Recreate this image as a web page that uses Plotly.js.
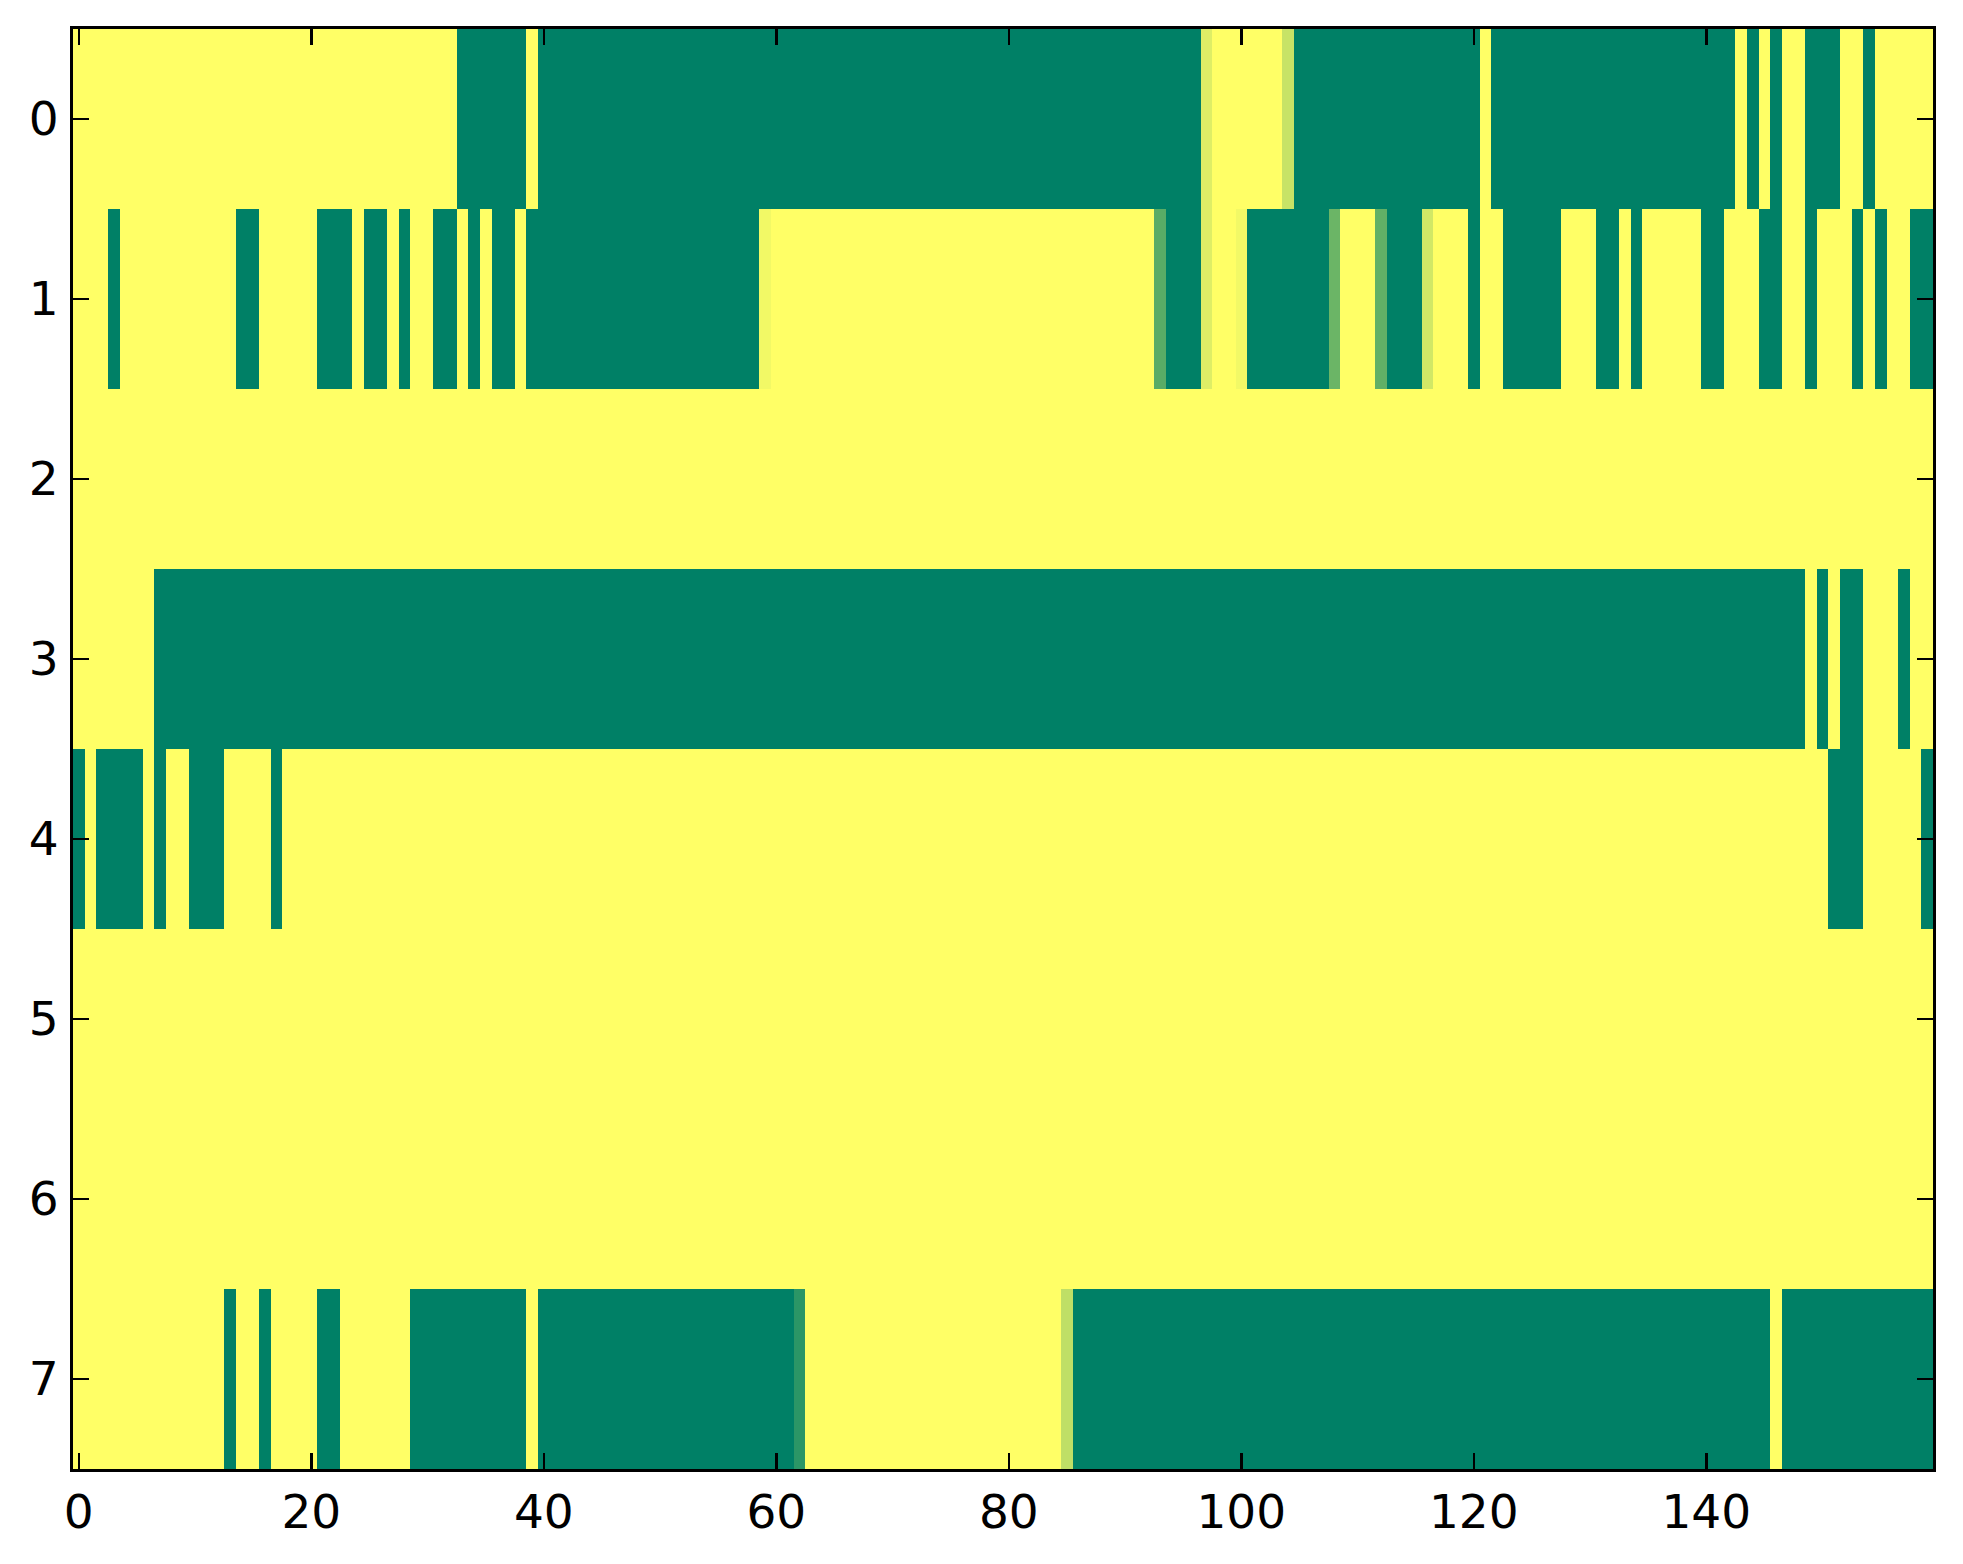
<!DOCTYPE html>
<html>
<head>
<meta charset="utf-8">
<script src="https://cdn.plot.ly/plotly-3.0.1.min.js"></script>
<style>html,body{margin:0;padding:0;background:#fff;}</style>
</head>
<body>
<div id="chart" style="width:1963px;height:1564px;"></div>
<script>
// Row values (0 = green end, 1 = yellow end of the "summer" colormap), 160 columns each
const row0 = [
  1,1,1,1,1,1,1,1,1,1,  1,1,1,1,1,1,1,1,1,1,  1,1,1,1,1,1,1,1,1,1,  1,1,1,0,0,0,0,0,0,1,
  0,0,0,0,0,0,0,0,0,0,  0,0,0,0,0,0,0,0,0,0,  0,0,0,0,0,0,0,0,0,0,  0,0,0,0,0,0,0,0,0,0,
  0,0,0,0,0,0,0,0,0,0,  0,0,0,0,0,0,0,0.87,1,1,  1,1,1,1,0.78,0,0,0,0,0,  0,0,0,0,0,0,0,0,0,0,
  0,1,0,0,0,0,0,0,0,0,  0,0,0,0,0,0,0,0,0,0,  0,0,0,1,0,1,0,1,1,0,  0,0,1,1,0,1,1,1,1,1
];
const row1 = [
  1,1,1,0,1,1,1,1,1,1,  1,1,1,1,0,0,1,1,1,1,  1,0,0,0,1,0,0,1,0,1,  1,0,0,1,0,1,0,0,1,0,
  0,0,0,0,0,0,0,0,0,0,  0,0,0,0,0,0,0,0,0,0.95,  1,1,1,1,1,1,1,1,1,1,  1,1,1,1,1,1,1,1,1,1,
  1,1,1,1,1,1,1,1,1,1,  1,1,1,0.35,0,0,0,0.87,1,1,  0.95,0,0,0,0,0,0,0,0.42,1,  1,1,0.38,0,0,0,0.82,1,1,1,
  0,1,1,0,0,0,0,0,1,1,  1,0,0,1,0,1,1,1,1,1,  0,0,1,1,1,0,0,1,1,0,  1,1,1,0,1,0,1,1,0,0
];
const row2 = [
  1,1,1,1,1,1,1,1,1,1,  1,1,1,1,1,1,1,1,1,1,  1,1,1,1,1,1,1,1,1,1,  1,1,1,1,1,1,1,1,1,1,
  1,1,1,1,1,1,1,1,1,1,  1,1,1,1,1,1,1,1,1,1,  1,1,1,1,1,1,1,1,1,1,  1,1,1,1,1,1,1,1,1,1,
  1,1,1,1,1,1,1,1,1,1,  1,1,1,1,1,1,1,1,1,1,  1,1,1,1,1,1,1,1,1,1,  1,1,1,1,1,1,1,1,1,1,
  1,1,1,1,1,1,1,1,1,1,  1,1,1,1,1,1,1,1,1,1,  1,1,1,1,1,1,1,1,1,1,  1,1,1,1,1,1,1,1,1,1
];
const row3 = [
  1,1,1,1,1,1,1,0,0,0,  0,0,0,0,0,0,0,0,0,0,  0,0,0,0,0,0,0,0,0,0,  0,0,0,0,0,0,0,0,0,0,
  0,0,0,0,0,0,0,0,0,0,  0,0,0,0,0,0,0,0,0,0,  0,0,0,0,0,0,0,0,0,0,  0,0,0,0,0,0,0,0,0,0,
  0,0,0,0,0,0,0,0,0,0,  0,0,0,0,0,0,0,0,0,0,  0,0,0,0,0,0,0,0,0,0,  0,0,0,0,0,0,0,0,0,0,
  0,0,0,0,0,0,0,0,0,0,  0,0,0,0,0,0,0,0,0,0,  0,0,0,0,0,0,0,0,0,1,  0,1,0,0,1,1,1,0,1,1
];
const row4 = [
  0,1,0,0,0,0,1,0,1,1,  0,0,0,1,1,1,1,0,1,1,  1,1,1,1,1,1,1,1,1,1,  1,1,1,1,1,1,1,1,1,1,
  1,1,1,1,1,1,1,1,1,1,  1,1,1,1,1,1,1,1,1,1,  1,1,1,1,1,1,1,1,1,1,  1,1,1,1,1,1,1,1,1,1,
  1,1,1,1,1,1,1,1,1,1,  1,1,1,1,1,1,1,1,1,1,  1,1,1,1,1,1,1,1,1,1,  1,1,1,1,1,1,1,1,1,1,
  1,1,1,1,1,1,1,1,1,1,  1,1,1,1,1,1,1,1,1,1,  1,1,1,1,1,1,1,1,1,1,  1,0,0,0,1,1,1,1,1,0
];
const row5 = [
  1,1,1,1,1,1,1,1,1,1,  1,1,1,1,1,1,1,1,1,1,  1,1,1,1,1,1,1,1,1,1,  1,1,1,1,1,1,1,1,1,1,
  1,1,1,1,1,1,1,1,1,1,  1,1,1,1,1,1,1,1,1,1,  1,1,1,1,1,1,1,1,1,1,  1,1,1,1,1,1,1,1,1,1,
  1,1,1,1,1,1,1,1,1,1,  1,1,1,1,1,1,1,1,1,1,  1,1,1,1,1,1,1,1,1,1,  1,1,1,1,1,1,1,1,1,1,
  1,1,1,1,1,1,1,1,1,1,  1,1,1,1,1,1,1,1,1,1,  1,1,1,1,1,1,1,1,1,1,  1,1,1,1,1,1,1,1,1,1
];
const row6 = [
  1,1,1,1,1,1,1,1,1,1,  1,1,1,1,1,1,1,1,1,1,  1,1,1,1,1,1,1,1,1,1,  1,1,1,1,1,1,1,1,1,1,
  1,1,1,1,1,1,1,1,1,1,  1,1,1,1,1,1,1,1,1,1,  1,1,1,1,1,1,1,1,1,1,  1,1,1,1,1,1,1,1,1,1,
  1,1,1,1,1,1,1,1,1,1,  1,1,1,1,1,1,1,1,1,1,  1,1,1,1,1,1,1,1,1,1,  1,1,1,1,1,1,1,1,1,1,
  1,1,1,1,1,1,1,1,1,1,  1,1,1,1,1,1,1,1,1,1,  1,1,1,1,1,1,1,1,1,1,  1,1,1,1,1,1,1,1,1,1
];
const row7 = [
  1,1,1,1,1,1,1,1,1,1,  1,1,1,0,1,1,0,1,1,1,  1,0,0,1,1,1,1,1,1,0,  0,0,0,0,0,0,0,0,0,1,
  0,0,0,0,0,0,0,0,0,0,  0,0,0,0,0,0,0,0,0,0,  0,0,0.17,1,1,1,1,1,1,1,  1,1,1,1,1,1,1,1,1,1,
  1,1,1,1,1,0.75,0,0,0,0,  0,0,0,0,0,0,0,0,0,0,  0,0,0,0,0,0,0,0,0,0,  0,0,0,0,0,0,0,0,0,0,
  0,0,0,0,0,0,0,0,0,0,  0,0,0,0,0,0,0,0,0,0,  0,0,0,0,0,0,1,0,0,0,  0,0,0,0,0,0,0,0,0,0
];
const rowLabels = [0, 1, 2, 3, 4, 5, 6, 7];
const xTickVals = [0, 20, 40, 60, 80, 100, 120, 140];
const yTickVals = [0, 1, 2, 3, 4, 5, 6, 7];

const z = [row0, row1, row2, row3, row4, row5, row6, row7];
const nCols = row0.length;
const colIdx = row0.map((_, i) => i);

const trace = {
  type: 'heatmap',
  z: z,
  x: colIdx,
  y: rowLabels,
  zmin: 0,
  zmax: 1,
  colorscale: [[0, 'rgb(0,128,102)'], [1, 'rgb(255,255,102)']],
  showscale: false,
  hoverinfo: 'x+y+z'
};

const axisCommon = {
  showgrid: false,
  zeroline: false,
  showline: true,
  linecolor: '#000',
  linewidth: 3,
  mirror: 'ticks',
  ticks: 'inside',
  ticklen: 16,
  tickwidth: 2.5,
  tickcolor: '#000',
  tickfont: {family: 'DejaVu Sans, sans-serif', size: 47, color: '#000'}
};

const layout = {
  width: 1963,
  height: 1564,
  margin: {l: 73, r: 30, t: 29, b: 95},
  paper_bgcolor: '#fff',
  plot_bgcolor: '#fff',
  xaxis: Object.assign({}, axisCommon, {
    range: [-0.5, nCols - 0.5],
    tickmode: 'array',
    tickvals: xTickVals,
    ticktext: xTickVals.map(String),
    ticklabelstandoff: 0
  }),
  yaxis: Object.assign({}, axisCommon, {
    range: [7.5, -0.5],
    tickmode: 'array',
    tickvals: yTickVals,
    ticktext: yTickVals.map(String),
    ticklabelstandoff: 2
  }),
  showlegend: false
};

Plotly.newPlot('chart', [trace], layout, {displayModeBar: false, staticPlot: true});
</script>
</body>
</html>
